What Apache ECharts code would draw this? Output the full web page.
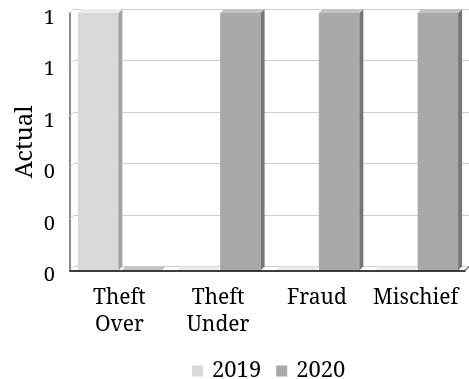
<!DOCTYPE html>
<html>
<head>
<meta charset="utf-8">
<script src="https://cdn.jsdelivr.net/npm/echarts@6/dist/echarts.min.js"></script>
<style>
  html, body { margin: 0; padding: 0; background: #fff; }
  #chart { width: 469px; height: 379px; }
</style>
</head>
<body>
<div id="chart"></div>
<script>
const categories = ['Theft\nOver', 'Theft\nUnder', 'Fraud', 'Mischief']
const years = ['2019', '2020']
const values2019 = [1, 0, 0, 0]
const values2020 = [0, 1, 1, 1]
const yTicks = [0, 0.2, 0.4, 0.6, 0.8, 1]

const FONT = 'Noto Serif'
const DEPTH = 4
// front, side, top shades per year
const shades = [
  { front: '#d9d9d9', side: '#a3a3a3', top: '#ebebeb' },
  { front: '#a9a9a9', side: '#777777', top: '#c3c3c3' }
]

function bar3d(idx) {
  return function (params, api) {
    const cat = api.value(0)
    const base = api.coord([cat, 0])
    const top = api.coord([cat, api.value(1)])
    const band = api.size([1, 0])[0]
    const w = band * 0.41
    const x0 = base[0] - band / 2 + band * (idx === 0 ? 0.08 : 0.52)
    const x1 = x0 + w
    const d = DEPTH
    const c = shades[idx]
    return {
      type: 'group',
      children: [
        { type: 'rect', shape: { x: x0, y: top[1], width: w, height: base[1] - top[1] }, style: { fill: c.front } },
        { type: 'polygon', shape: { points: [[x1, top[1]], [x1 + d, top[1] - d], [x1 + d, base[1] - d], [x1, base[1]]] }, style: { fill: c.side } },
        { type: 'polygon', shape: { points: [[x0, top[1]], [x0 + d, top[1] - d], [x1 + d, top[1] - d], [x1, top[1]]] }, style: { fill: c.top } }
      ]
    }
  }
}

const chart = echarts.init(document.getElementById('chart'))

const seriesData = [values2019, values2020]

chart.setOption({
  animation: false,
  textStyle: { fontFamily: FONT },
  legend: {
    data: years.map((y, i) => ({ name: y, icon: 'rect', itemStyle: { color: shades[i].front } })),
    left: 187,
    top: 355,
    itemWidth: 11,
    itemHeight: 11,
    itemGap: 15,
    textStyle: { fontFamily: FONT, fontSize: 22, color: '#000', padding: [0, 0, 0, 4] }
  },
  grid: [
    { left: 70, right: 4, top: 13, bottom: 108.5 },
    { left: 74, right: 0, top: 9, bottom: 112.5 },
    // label strip, sits a little lower than the front face
    { left: 70, right: 4, top: 18, bottom: 103.5 }
  ],
  xAxis: [
    {
      type: 'category',
      data: categories,
      gridIndex: 0,
      z: 10,
      axisTick: { show: false },
      axisLine: { lineStyle: { color: '#000', width: 1.5 } },
      axisLabel: { color: '#000', fontSize: 21, lineHeight: 27, margin: 14, interval: 0, fontFamily: FONT }
    },
    { type: 'category', data: categories, gridIndex: 1, show: false },
    { type: 'category', data: categories, gridIndex: 2, show: false }
  ],
  yAxis: [
    {
      type: 'value',
      gridIndex: 0,
      min: 0,
      max: 1,
      interval: 0.2,
      name: 'Actual',
      nameLocation: 'middle',
      nameGap: 33,
      nameTextStyle: { fontSize: 24, color: '#000', fontFamily: FONT },
      axisLine: { show: true, lineStyle: { color: '#8c8c8c', width: 2 } },
      axisTick: { show: false },
      splitLine: { show: false },
      axisLabel: { show: false }
    },
    {
      type: 'value',
      gridIndex: 1,
      min: 0,
      max: 1,
      interval: 0.2,
      axisLine: { show: false },
      axisTick: { show: false },
      axisLabel: { show: false },
      splitLine: { lineStyle: { color: '#d0d0d0', width: 1 } }
    },
    {
      type: 'value',
      gridIndex: 2,
      min: 0,
      max: 1,
      interval: 0.2,
      axisLine: { show: false },
      axisTick: { show: false },
      splitLine: { show: false },
      axisLabel: {
        color: '#000', fontSize: 20, margin: 15, fontFamily: FONT,
        formatter: v => String(Math.round(v))
      }
    }
  ],
  series: years.map((y, i) => ({
    name: y,
    type: 'custom',
    xAxisIndex: 0,
    yAxisIndex: 0,
    itemStyle: { color: shades[i].front },
    renderItem: bar3d(i),
    data: seriesData[i].map((v, k) => [k, v]),
    z: 3
  }))
})

// wall edge diagonals and floor corner
const lines = []
yTicks.forEach(t => {
  const p = chart.convertToPixel({ xAxisIndex: 0, yAxisIndex: 0 }, [0, t])
  lines.push({ type: 'line', shape: { x1: 70, y1: p[1], x2: 70 + DEPTH, y2: p[1] - DEPTH }, style: { stroke: '#d0d0d0', lineWidth: 1 }, z: 1 })
})
lines.push({ type: 'line', shape: { x1: 465, y1: 270.5, x2: 469, y2: 266.5 }, style: { stroke: '#000', lineWidth: 1 }, z: 4 })
chart.setOption({ graphic: lines })
</script>
</body>
</html>
